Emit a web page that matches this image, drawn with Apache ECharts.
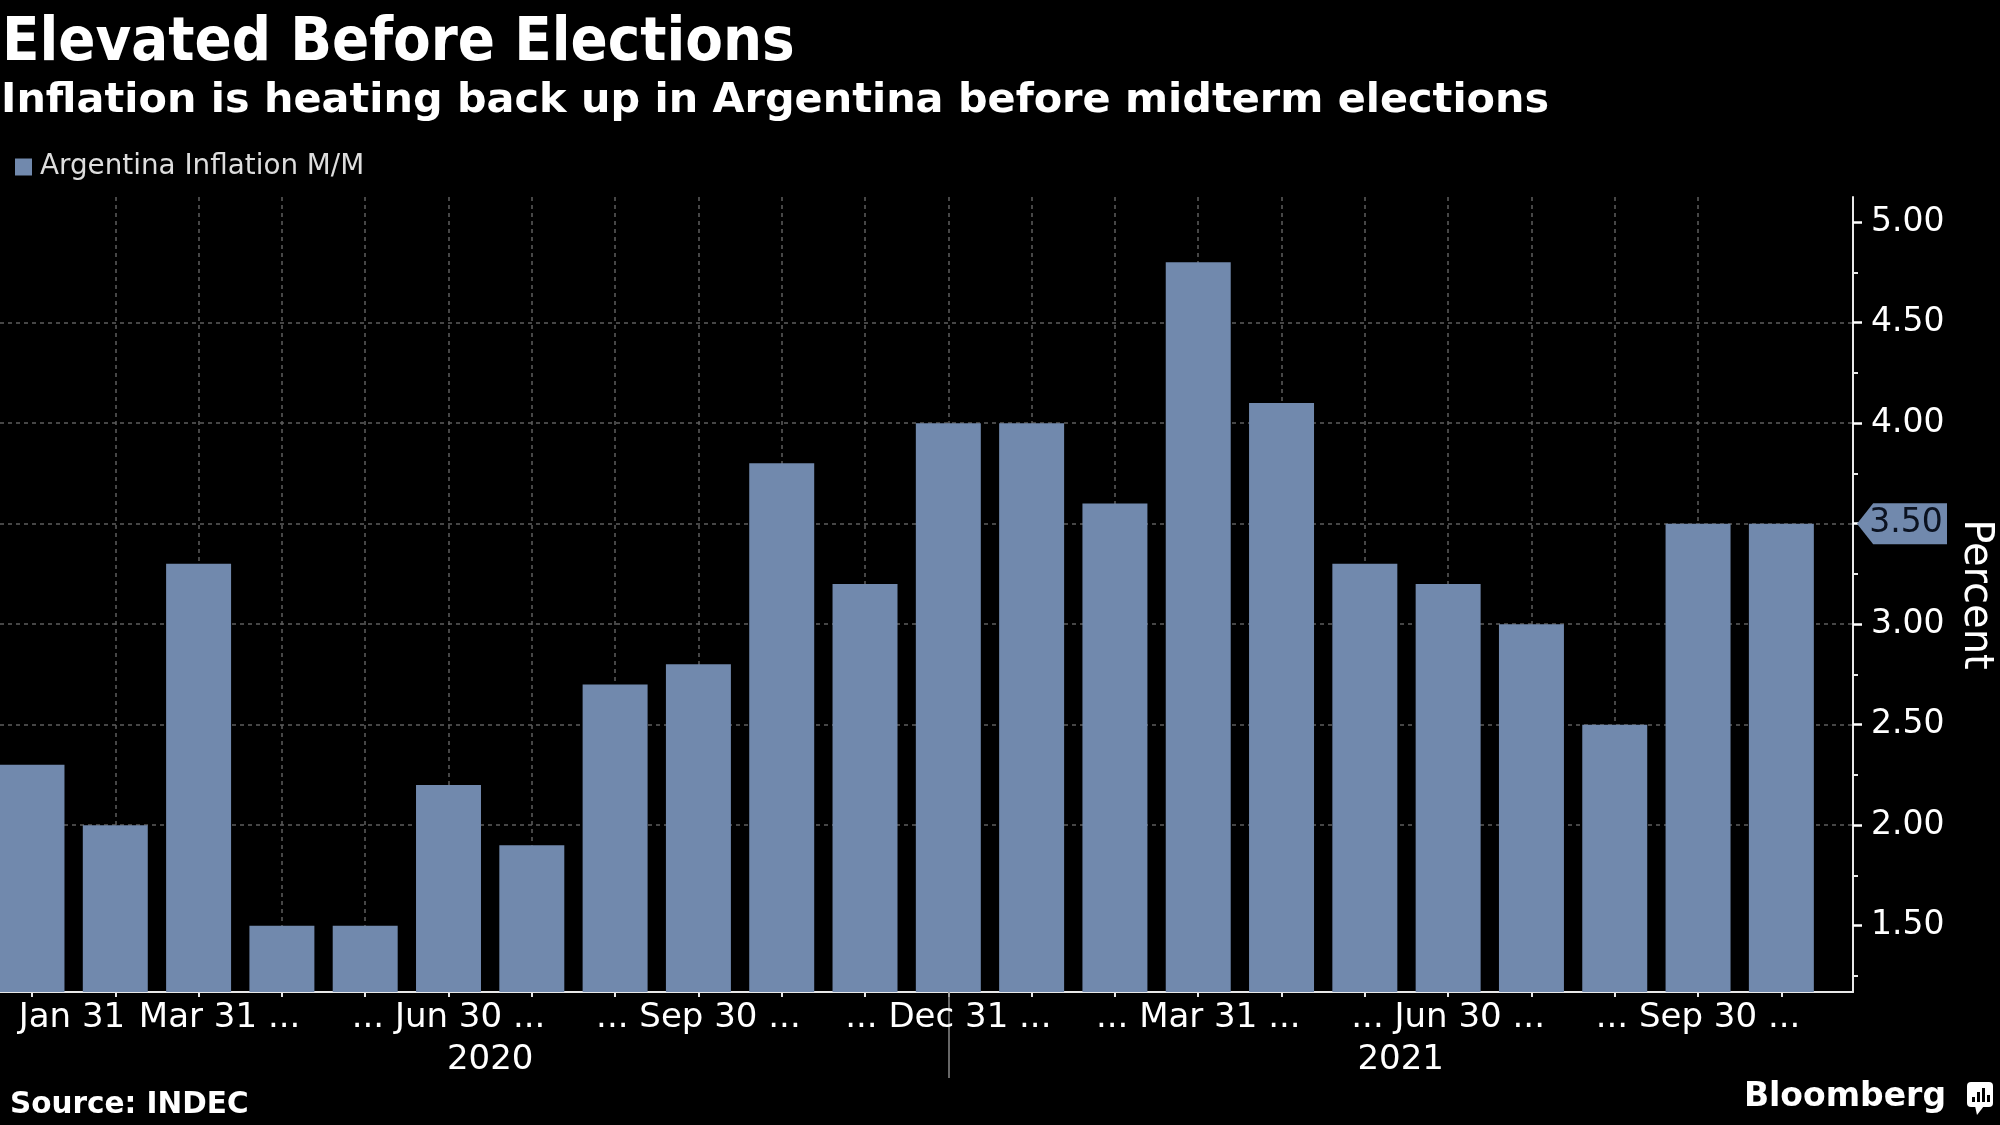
<!DOCTYPE html>
<html>
<head>
<meta charset="utf-8">
<script src="https://cdn.jsdelivr.net/npm/echarts@6/dist/echarts.min.js"></script>
<style>
  html, body { margin: 0; padding: 0; background: #000; }
  #chart { width: 2000px; height: 1125px; }
</style>
</head>
<body>
<div id="chart"></div>
<script>
// ---- data ----
const categories = ['Jan 2020','Feb 2020','Mar 2020','Apr 2020','May 2020','Jun 2020','Jul 2020','Aug 2020','Sep 2020','Oct 2020','Nov 2020','Dec 2020',
                    'Jan 2021','Feb 2021','Mar 2021','Apr 2021','May 2021','Jun 2021','Jul 2021','Aug 2021','Sep 2021','Oct 2021'];
const inflation = [2.3, 2.0, 3.3, 1.5, 1.5, 2.2, 1.9, 2.7, 2.8, 3.8, 3.2, 4.0,
                   4.0, 3.6, 4.8, 4.1, 3.3, 3.2, 3.0, 2.5, 3.5, 3.5];
const xTickIndex = [0, 2, 5, 8, 11, 14, 17, 20];
const xTickLabels = ['Jan 31', 'Mar 31 ...', '... Jun 30 ...', '... Sep 30 ...', '... Dec 31 ...', '... Mar 31 ...', '... Jun 30 ...', '... Sep 30 ...'];
const yearLabels = ['2020', '2021'];
const yearCenters = [5.5, 16.43];
const yearDivider = [11];
const yTickValues = [1.5, 2.0, 2.5, 3.0, 3.5, 4.0, 4.5, 5.0];
const yMinorTicks = [1.25, 1.75, 2.25, 2.75, 3.25, 3.75, 4.25, 4.75];
const seriesName = 'Argentina Inflation M/M';

// ---- style / layout ----
const FONT = '"DejaVu Sans", sans-serif';
const BAR = '#7189ad';
const GRIDC = '#5e5e5e';
const X_MIN = -0.384, X_MAX = 21.86;
const Y_MIN = 1.17, Y_MAX = 5.125;

const chart = echarts.init(document.getElementById('chart'), null, { renderer: 'canvas' });

const barData = inflation.map((v, i) => [i, v]);
const lastValue = inflation[inflation.length - 1];

chart.setOption({
  backgroundColor: '#000',
  animation: false,
  title: [
    { text: 'Elevated Before Elections', left: 2, top: 14, padding: 0,
      textStyle: { color: '#fff', fontSize: 61, fontWeight: 'bold', fontFamily: '"DejaVu Sans Condensed", "DejaVu Sans", sans-serif', lineHeight: 61 } },
    { text: 'Inflation is heating back up in Argentina before midterm elections', left: 1, top: 81, padding: 0,
      textStyle: { color: '#fff', fontSize: 41.4, fontWeight: 'bold', fontFamily: FONT, lineHeight: 41 } },
    { text: 'Source: INDEC', left: 10, top: 1090, padding: 0,
      textStyle: { color: '#fff', fontSize: 29.5, fontWeight: 'bold', fontFamily: FONT, lineHeight: 30 } },
    { text: 'Bloomberg', right: 54, top: 1081, padding: 0,
      textStyle: { color: '#fff', fontSize: 33, fontWeight: 'bold', fontFamily: FONT, lineHeight: 33 } }
  ],
  legend: {
    data: [seriesName], left: 15, top: 153, padding: 0,
    icon: 'rect', itemWidth: 17, itemHeight: 17,
    textStyle: { color: '#ddd', fontSize: 27.8, fontFamily: FONT, padding: [0, 0, 0, 3] }
  },
  grid: { left: 0, right: 147, top: 197, bottom: 133, containLabel: false, outerBoundsMode: 'none' },
  xAxis: [
    {
      type: 'value', min: X_MIN, max: X_MAX, minInterval: 1, maxInterval: 1, position: 'bottom',
      axisLine: { show: true, onZero: false, lineStyle: { color: '#e8e8e8', width: 2 } },
      axisTick: { show: true, length: 5, customValues: categories.map((c, i) => i), lineStyle: { color: '#e8e8e8', width: 2 } },
      axisLabel: {
        show: true, customValues: xTickIndex, margin: 9, color: '#fff', fontSize: 34, fontFamily: FONT,
        formatter: function (v) {
          const k = xTickIndex.indexOf(Math.round(v));
          const t = k >= 0 ? xTickLabels[k] : '';
          if (k === 0) return '{a|' + t + '}';
          if (k === 1) return '{b|' + t + '}';
          return t;
        },
        rich: {
          a: { padding: [0, 0, 0, 80], color: '#fff', fontSize: 34, fontFamily: FONT },
          b: { padding: [0, 0, 0, 42], color: '#fff', fontSize: 34, fontFamily: FONT }
        }
      },
      splitLine: { show: true, showMinLine: false, showMaxLine: false, lineStyle: { color: GRIDC, type: [4, 4], width: 1.5 } }
    },
    {
      type: 'value', min: X_MIN, max: X_MAX, position: 'bottom', offset: 0,
      axisLine: { show: false, onZero: false },
      axisTick: { show: true, customValues: yearDivider, length: 86, lineStyle: { color: '#8a8a8a', width: 1.5 } },
      axisLabel: {
        show: true, customValues: yearCenters, margin: 51, color: '#fff', fontSize: 34, fontFamily: FONT,
        formatter: function (v) {
          const k = yearCenters.findIndex(c => Math.abs(c - v) < 1e-6);
          return k >= 0 ? yearLabels[k] : '';
        }
      },
      splitLine: { show: false }
    }
  ],
  yAxis: [
    {
      type: 'value', position: 'right', min: Y_MIN, max: Y_MAX, minInterval: 0.5, maxInterval: 0.5, splitNumber: 8,
      name: 'Percent', nameLocation: 'middle', nameRotate: -90, nameGap: 100,
      nameTextStyle: { color: '#fff', fontSize: 40, fontFamily: FONT },
      axisLine: { show: true, onZero: false, lineStyle: { color: '#e8e8e8', width: 2 } },
      axisTick: { show: true, length: 9, customValues: yTickValues, lineStyle: { color: '#fff', width: 2.5 } },
      axisLabel: { show: true, customValues: yTickValues, margin: 18, color: '#fff', fontSize: 33, fontFamily: FONT,
        formatter: v => Number(v).toFixed(2) },
      splitLine: { show: true, showMinLine: false, showMaxLine: false, lineStyle: { color: GRIDC, type: [4, 4], width: 1.5 } }
    },
    {
      type: 'value', position: 'right', min: Y_MIN, max: Y_MAX,
      axisLine: { show: false, onZero: false },
      axisTick: { show: true, length: 5, customValues: yMinorTicks, lineStyle: { color: '#e8e8e8', width: 2 } },
      axisLabel: { show: false },
      splitLine: { show: false }
    }
  ],
  series: [
    {
      name: seriesName, type: 'bar', xAxisIndex: 0, yAxisIndex: 0,
      data: barData, barWidth: '78%', clip: true,
      itemStyle: { color: BAR },
      emphasis: { disabled: true },
      markPoint: {
        silent: true,
        symbol: 'path://M0,50 L18,0 L100,0 L100,100 L18,100 Z',
        symbolSize: [90, 41], symbolKeepAspect: false,
        symbolOffset: [49, 0],
        itemStyle: { color: BAR },
        label: { show: true, position: 'inside', offset: [4, 0], color: '#0b1220', fontSize: 33, fontFamily: FONT,
          formatter: p => Number(p.value).toFixed(2) },
        data: [{ coord: [X_MAX, lastValue], value: lastValue }]
      }
    }
  ],
  graphic: [
    { type: 'group', left: 1967, top: 1082, children: [
      { type: 'rect', shape: { x: 0, y: 0, width: 26, height: 25, r: 4 }, style: { fill: '#fff' } },
      { type: 'polygon', shape: { points: [[8, 24], [17, 24], [10, 33]] }, style: { fill: '#fff' } },
      { type: 'rect', shape: { x: 5, y: 15, width: 3, height: 5 }, style: { fill: '#000' } },
      { type: 'rect', shape: { x: 10, y: 10, width: 3, height: 10 }, style: { fill: '#000' } },
      { type: 'rect', shape: { x: 15, y: 6, width: 3, height: 14 }, style: { fill: '#000' } },
      { type: 'rect', shape: { x: 20, y: 13, width: 3, height: 7 }, style: { fill: '#000' } }
    ] }
  ]
});
</script>
</body>
</html>
